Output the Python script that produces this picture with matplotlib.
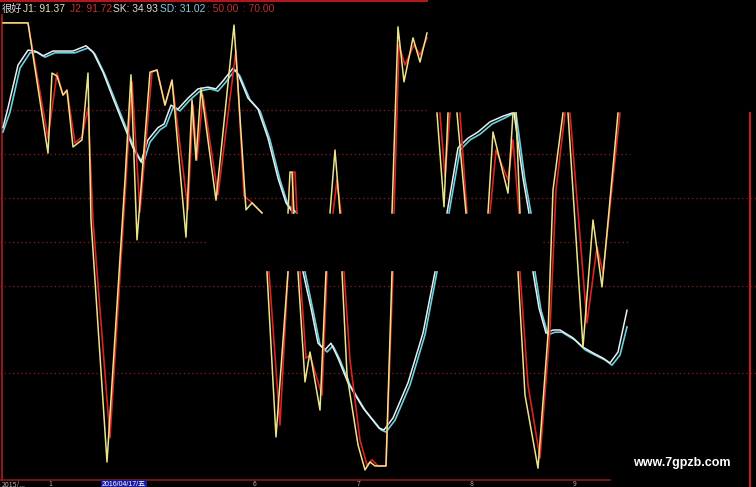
import numpy as np
import matplotlib
matplotlib.use('Agg')
import matplotlib.pyplot as plt

nan = np.nan

# J1 (yellow) - segments separated by nan where the screen is blanked
j1_x = [0.6, 5.6, 9.6, 10.4, 11.4, 12.6, 13.4, 14.6, 16.4, 17.6, 18.2, 21.4, 25.0, 26.2, 27.4,
        30.0, 31.4, 33.0, 34.4, 37.2, 38.4, 39.2, 40.2, 43.2, 46.8, 49.2, 50.4, 52.4, nan,
        53.4, 55.2, 57.6, nan,
        57.6, 58.0, 58.4, 58.8, nan,
        59.6, 61.0, 62.0, 64.0, 65.2, nan,
        66.0, 67.0, 68.0, nan,
        68.4, 69.4, 71.6, 73.0, 74.0, 75.0, 77.2, 78.4, nan,
        78.4, 79.6, 80.8, 82.6, 84.0, 85.4, nan,
        87.4, 88.8, 89.6, nan,
        91.4, 93.2, nan,
        97.6, 98.6, 101.6, 102.6, nan,
        103.2, 104.0, nan,
        103.6, 105.0, 107.6, 109.6, 110.6, 112.6, nan,
        113.6, 116.6, 118.6, 120.4, 123.6]
j1_y = [119.8, 119.8, 90.2, 108.4, 107.7, 103.4, 104.5, 91.6, 93.2, 108.4, 75.0, 20.0, 84.1, 108.0, 70.5,
        108.6, 109.1, 101.1, 106.8, 71.1, 102.3, 88.6, 105.0, 79.5, 119.3, 77.3, 78.9, 76.6, nan,
        63.2, 25.7, 63.2, nan,
        76.6, 85.9, 85.9, 76.6, nan,
        63.2, 38.2, 45.0, 31.8, 63.2, nan,
        76.6, 90.9, 76.6, nan,
        63.2, 39.8, 23.9, 18.2, 20.0, 19.1, 19.1, 63.2, nan,
        76.6, 118.9, 106.4, 116.4, 110.9, 117.5, nan,
        99.3, 78.0, 99.3, nan,
        99.3, 76.6, nan,
        76.6, 95.0, 81.1, 99.3, nan,
        99.3, 76.6, nan,
        63.2, 35.2, 18.6, 48.9, 81.8, 99.3, nan,
        99.3, 46.1, 75.0, 59.8, 99.3]

# J2 (red)
j2_x = [0.6, 5.6, 9.6, 11.4, 12.6, 13.4, 15.0, 16.4, 17.6, 18.6, 22.0, 25.2, 26.4, 28.0,
        30.4, 31.4, 33.0, 34.4, 37.6, 38.6, 39.4, 40.6, 43.6, 47.2, 48.8, 50.4, 52.4, nan,
        53.8, 56.0, 57.6, nan,
        58.4, 58.6, 59.0, 59.4, nan,
        60.0, 61.2, 62.0, 64.4, 65.4, nan,
        66.6, 67.4, 68.2, nan,
        68.8, 70.0, 72.0, 73.4, 74.4, 75.6, 77.2, 78.6, nan,
        78.8, 79.8, 81.0, 82.8, 84.0, 85.4, nan,
        88.0, 89.0, 90.0, nan,
        92.0, 93.4, nan,
        98.0, 99.2, 101.6, 102.6, 103.8, nan,
        104.0, 105.6, 108.0, 110.0, 111.2, 113.0, nan,
        114.0, 117.4, 119.4, 120.6, 124.0]
j2_y = [119.8, 119.8, 93.6, 108.4, 103.4, 104.5, 92.5, 93.9, 100.5, 75.0, 25.5, 84.1, 106.4, 76.8,
        108.6, 109.1, 101.1, 106.8, 77.3, 101.1, 88.6, 103.4, 80.7, 113.6, 80.5, 78.9, 76.6, nan,
        63.2, 28.4, 63.2, nan,
        76.6, 85.9, 85.9, 76.6, nan,
        63.2, 43.6, 44.3, 35.2, 63.2, nan,
        76.6, 84.1, 76.6, nan,
        63.2, 43.2, 25.0, 19.3, 20.5, 19.1, 19.1, 63.2, nan,
        76.6, 114.8, 110.2, 114.8, 112.5, 116.4, nan,
        99.3, 84.8, 99.3, nan,
        99.3, 76.6, nan,
        76.6, 90.9, 84.1, 93.2, 76.6, nan,
        63.2, 37.5, 20.9, 50.0, 81.8, 99.3, nan,
        99.3, 51.6, 68.9, 63.0, 99.3]

# SK (white)
sk_x = [0.6, 1.6, 3.6, 5.6, 7.0, 8.6, 10.6, 14.6, 17.2, 18.6, 20.6, 22.6, 24.6, 26.6, 28.2,
        29.6, 31.6, 32.8, 34.2, 35.6, 37.6, 39.6, 41.6, 43.2, 44.6, 46.6, 47.6, 49.6, 51.6,
        53.6, 55.6, 57.2, 58.6, nan,
        60.6, 62.2, 63.6, 65.0, 66.2, 67.6, 69.6, 72.6, 75.8, 76.8, 78.6, 81.6, 84.6, 87.0, nan,
        89.4, 91.6, 93.6, 95.6, 98.0, 100.6, 102.4, nan,
        102.8, 104.6, 105.8, nan,
        106.6, 107.8, 109.2, 110.6, 112.0, 114.6, 116.6, 118.6, 120.6, 122.0, 123.6, 125.4]
sk_y = [96.0, 100.5, 110.2, 113.6, 113.4, 112.3, 113.4, 113.4, 114.6, 113.2, 108.6, 102.7, 97.0, 91.4, 88.2,
        93.2, 96.0, 96.8, 101.1, 100.2, 102.7, 104.8, 105.2, 104.8, 106.6, 109.5, 108.2, 102.7, 100.2,
        93.6, 84.5, 78.9, 76.6, nan,
        63.2, 55.0, 47.0, 45.5, 47.0, 43.6, 38.0, 32.3, 27.7, 27.3, 30.0, 38.0, 49.3, 63.2, nan,
        76.6, 91.4, 93.6, 95.0, 97.3, 98.6, 99.3, nan,
        99.3, 84.5, 76.6, nan,
        63.2, 55.0, 49.3, 50.0, 50.0, 48.2, 46.1, 44.8, 43.6, 42.5, 45.0, 54.5]

# SD (cyan)
sd_x = [0.6, 2.0, 4.0, 6.0, 7.4, 9.0, 11.0, 15.0, 17.6, 19.0, 21.0, 23.0, 25.0, 27.0, 28.6,
        30.0, 32.0, 33.2, 34.6, 36.0, 38.0, 40.0, 42.0, 43.6, 45.0, 47.0, 48.0, 50.0, 52.0,
        54.0, 56.0, 57.6, 59.4, nan,
        61.0, 62.6, 64.0, 65.4, 66.6, 68.0, 70.0, 73.0, 76.2, 77.2, 79.0, 82.0, 85.0, 87.4, nan,
        89.8, 92.0, 94.0, 96.0, 98.4, 101.0, 102.8, nan,
        103.2, 105.0, 106.2, nan,
        107.0, 108.2, 109.6, 111.0, 112.4, 115.0, 117.0, 119.0, 121.0, 122.4, 124.0, 125.4]
sd_y = [95.0, 99.5, 109.5, 113.0, 113.2, 112.0, 113.0, 113.0, 114.1, 112.7, 108.0, 102.3, 96.6, 90.9, 87.7,
        92.7, 95.5, 96.4, 100.5, 99.8, 102.3, 104.3, 104.8, 104.3, 106.1, 109.1, 107.7, 102.3, 99.8,
        93.2, 84.1, 78.4, 76.6, nan,
        63.2, 54.5, 46.6, 45.0, 46.4, 43.2, 37.5, 31.8, 27.3, 26.8, 29.5, 37.5, 48.9, 63.2, nan,
        76.6, 90.9, 93.2, 94.5, 96.8, 98.2, 99.3, nan,
        99.3, 84.1, 76.6, nan,
        63.2, 54.5, 48.9, 49.5, 49.5, 47.7, 45.5, 44.3, 43.2, 42.0, 44.3, 50.7]

# dotted level lines: (value, start, end) in axis fraction
grid_levels = [(100, 0.0, 0.565), (90, 0.0, 0.833), (80, 0.0, 1.0), (70, 0.0, 0.274),
               (70, 0.718, 0.833), (60, 0.0, 1.0), (40.2, 0.0, 1.0)]

legend_parts = [('很好', 2, '#d8d8d8'), ('J1: 91.37', 23, '#e6e2b4'), ('J2: 91.72', 70, '#c83232'),
                ('SK: 34.93', 113, '#dcdcdc'), ('SD: 31.02', 160, '#8cc8d8'),
                (': 50.00', 207, '#c03030'), (': 70.00', 243, '#c03030')]

date_labels = [('2015/...', 2), ('1', 48), ('6', 253), ('7', 357), ('8', 470), ('9', 573)]

plt.rcParams['font.family'] = ['Noto Sans CJK SC', 'DejaVu Sans']

fig = plt.figure(figsize=(7.56, 4.87), dpi=100, facecolor='black')
ax = fig.add_axes([0, 0, 1, 1])
ax.set_facecolor('black')
ax.set_xlim(0, 151.2)
ax.set_ylim(125 - 487 / 4.4, 125)
ax.axis('off')

for lv, a, b in grid_levels:
    ax.axhline(lv, a, b, color='#7a1a1a', lw=1.0, ls=(0, (1, 2)))

# frame pieces
ax.axhline(124.8, 0, 0.565, color='#b01818', lw=1.5)
ax.axvline(0.4, 0.015, 0.97, color='#901818', lw=1.5)
ax.axvline(150.0, 0, 0.768, color='#c02020', lw=1.5)
ax.axhline(15.9, 0, 0.807, color='#901818', lw=1.2)

ax.plot(sd_x, sd_y, color='#66d2e2', lw=1.2)
ax.plot(sk_x, sk_y, color='#eeeeee', lw=1.1)
ax.plot(j2_x, j2_y, color='#dd2222', lw=1.2)
ax.plot(j1_x, j1_y, color='#ece48a', lw=1.1)

for txt, px, c in legend_parts:
    fig.text(px / 756, 1 - 9 / 487, txt, color=c, fontsize=7.4, va='center', ha='left',
             family=['Liberation Sans', 'Noto Sans CJK SC'])

for txt, px in date_labels:
    fig.text(px / 756, 1 - 480.5 / 487, txt, color='#b0b0b0', fontsize=5, va='top', ha='left')
fig.text(102 / 756, 1 - 481 / 487, '2016/04/17/五', color='white', fontsize=5, va='top', ha='left',
         family=['Liberation Sans', 'Noto Sans CJK SC'],
         bbox=dict(boxstyle='square,pad=0.1', fc='#1a1aa0', ec='none'))

fig.text(682 / 756, 1 - 463 / 487, 'www.7gpzb.com', color='white', fontsize=9, fontweight='bold',
         ha='center', va='center', family='Liberation Sans')

fig.savefig('out.png', dpi=100, facecolor='black')
